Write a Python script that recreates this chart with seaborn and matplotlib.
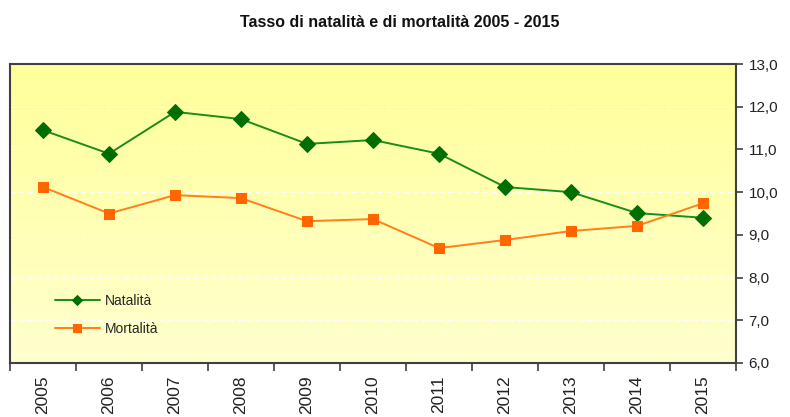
import numpy as np
import pandas as pd
import matplotlib
matplotlib.use("Agg")
import matplotlib.pyplot as plt
import seaborn as sns
from matplotlib.colors import LinearSegmentedColormap
from matplotlib.ticker import FixedLocator

years = ["2005", "2006", "2007", "2008", "2009", "2010", "2011", "2012", "2013", "2014", "2015"]
natalita = [11.45, 10.9, 11.88, 11.71, 11.13, 11.22, 10.9, 10.12, 10.0, 9.51, 9.4]
mortalita = [10.12, 9.5, 9.93, 9.86, 9.32, 9.37, 8.69, 8.88, 9.09, 9.21, 9.74]
yticks = [6, 7, 8, 9, 10, 11, 12, 13]

sns.set_theme(style="white")
plt.rcParams['font.family'] = ['Liberation Sans', 'DejaVu Sans']

df = pd.DataFrame({"x": np.arange(len(years)), "Natalità": natalita, "Mortalità": mortalita})

fig = plt.figure(figsize=(7.9, 4.17), dpi=100)
ax = fig.add_axes([0.0127, 0.1295, 0.919, 0.717])

# gradient background
cmap = LinearSegmentedColormap.from_list("bg", ["#FFFFCF", "#FFFF99"])
grad = np.linspace(0, 1, 256).reshape(-1, 1)
ax.imshow(grad, extent=[-0.5, 10.5, 6, 13], origin="lower", aspect="auto", cmap=cmap, zorder=0)

for yv in yticks[1:-1]:
    ax.axhline(yv, color="white", lw=0.9, ls=(0, (4, 3)), zorder=1)

sns.lineplot(data=df, x="x", y="Natalità", ax=ax, color="#1A8C1A", lw=1.4,
             marker="D", markersize=8, markerfacecolor="#006E00", markeredgecolor="#006E00",
             label="Natalità", zorder=3)
sns.lineplot(data=df, x="x", y="Mortalità", ax=ax, color="#FF7F1A", lw=1.4,
             marker="s", markersize=7.5, markerfacecolor="#FF6600", markeredgecolor="#FF6600",
             label="Mortalità", zorder=3)

ax.set_xlim(-0.5, 10.5)
ax.set_ylim(6, 13)
ax.set_xlabel("")
ax.set_ylabel("")

ax.yaxis.tick_right()
ax.set_yticks(yticks)
ax.set_yticklabels([f"{v:.1f}".replace(".", ",") for v in yticks], fontsize=11, color="#222222")
ax.tick_params(axis="y", which="major", direction="out", length=5, width=1.2, color="#404040", pad=4, right=True, left=False)

ax.set_xticks(np.arange(len(years)))
ax.set_xticklabels(years, rotation=90, fontsize=12.5, color="#222222", va="top")
ax.tick_params(axis="x", which="major", length=0, pad=9, bottom=True)
ax.xaxis.set_minor_locator(FixedLocator(np.arange(-0.5, 11, 1)))
ax.tick_params(axis="x", which="minor", direction="out", length=6, width=1.2, color="#404040", bottom=True)

for s in ax.spines.values():
    s.set_color("#404040")
    s.set_linewidth(1.5)
    s.set_visible(True)

leg = ax.legend(loc="lower left", bbox_to_anchor=(0.045, 0.05), frameon=False, fontsize=10,
                handlelength=3.2, labelspacing=1.0, handletextpad=0.4, markerscale=0.7)

fig.text(0.506, 0.945, "Tasso di natalità e di mortalità 2005 - 2015", ha="center", va="center",
         fontsize=11.5, fontweight="bold", color="#111111")

fig.savefig("out.png", dpi=100, facecolor="white")
